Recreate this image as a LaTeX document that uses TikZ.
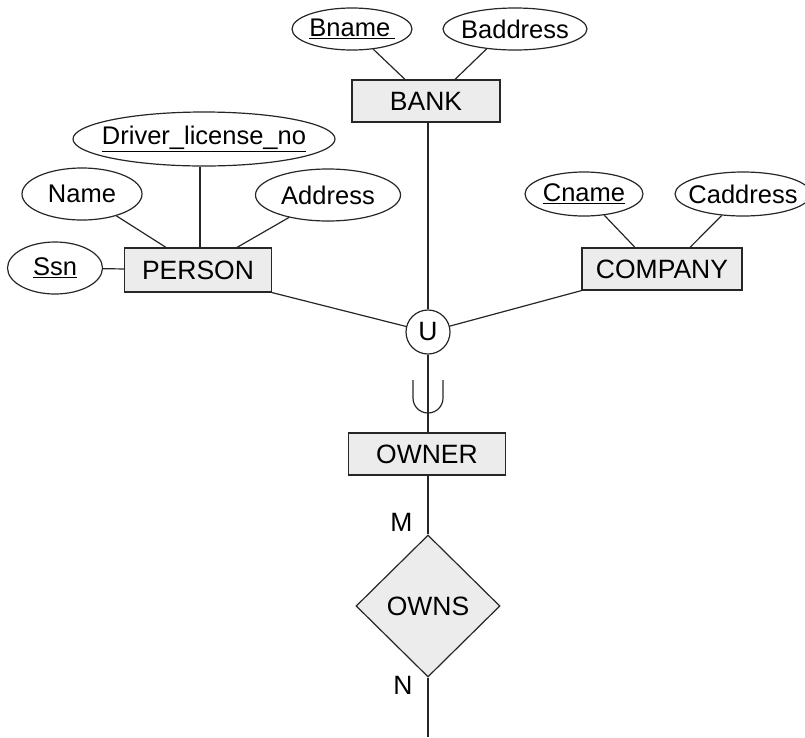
\documentclass[tikz,border=0pt]{standalone}
\usepackage{fontspec}
\setmainfont{Liberation Sans}
\usetikzlibrary{shapes.geometric, positioning}

\begin{document}
\begin{tikzpicture} [
						x=1pt, y=-1pt,
						font=\fontsize{26.5}{30}\selectfont,
						line width=1.2pt,
						draw=black!85,
						entity/.style={draw, fill=gray!15, minimum height=42pt, inner sep=0pt},
						attrib/.style={draw, ellipse, inner xsep=-12pt, inner ysep=0pt, font=\fontsize{25.5}{30}\selectfont},
						relation/.style={draw, diamond, fill=gray!15, minimum width=144pt, minimum height=142pt, inner sep=0pt},
						union/.style={draw, circle, fill=white, minimum size=44pt, inner sep=0pt},
						card/.style={inner sep=0pt, left=15pt}
					]
\useasboundingbox (0,0) rectangle (805,737);

\node (bank) [entity, minimum width=148pt] at (426,101) {BANK};
\node (bname) [attrib, minimum width=120pt, minimum height=42pt] at (352,29) {\underline{Bname\,}};
\node (baddr) [attrib, minimum width=144pt, minimum height=42pt] at (515,29) {Baddress};

\node (person) [entity, minimum width=147pt, minimum height=44pt] at (198,270) {PERSON};
\node (ssn) [attrib, minimum width=95pt, minimum height=52pt] at (55,268) {\underline{Ssn}};
\node (name) [attrib, minimum width=120pt, minimum height=52pt] at (82,194) {Name};
\node (addr) [attrib, minimum width=145pt, minimum height=52pt] at (328,195) {Address};
\node (dln) [attrib, minimum width=262pt, minimum height=54pt] at (204,139) {\underline{Driver\_license\_no}};

\node (company) [entity, minimum width=160pt] at (662,269) {COMPANY};
\node (cname) [attrib, minimum width=118pt, minimum height=44pt] at (584,194) {\underline{Cname}};
\node (caddr) [attrib, minimum width=136pt, minimum height=44pt] at (743,194) {Caddress};

\node (u) [union] at (428,332) {U};
\coordinate (sub) at (428,398);
\node (owner) [entity, minimum width=157pt] at (427,454) {OWNER};
\node (owns) [relation] at (428,606) {OWNS};
\coordinate (end) at (428,737);

% attributes
\draw (bname) -- ([xshift=-21pt]bank.north);
\draw (baddr.215) -- ([xshift=29pt]bank.north);
\draw (name) -- ([xshift=-32pt]person.north);
\draw (addr) -- ([xshift=39pt]person.north);
\draw ([xshift=-4pt]dln.south) -- ([xshift=-4pt]dln.south |- person.north);
\draw (ssn) -- (person);
\draw (cname) -- ([xshift=-27pt]company.north);
\draw (caddr) -- ([xshift=28pt]company.north);

% union category
\draw (person.south east) -- (u);
\draw (company.south west) -- (u);
\draw (bank.south -| u) -- (u);
\draw (u) -- (u |- owner.north);
\draw ([xshift=-15pt,yshift=18pt]sub) -- ([xshift=-15pt]sub)
	arc[start angle=180, end angle=360, radius=15pt] -- ([xshift=15pt,yshift=18pt]sub);

% relationship
\draw (owns.north |- owner.south) -- node[card, pos=0.8] {M} (owns.north);
\draw (owns.south) -- node[card, pos=0.13] {N} (end);
\end{tikzpicture}
\end{document}
